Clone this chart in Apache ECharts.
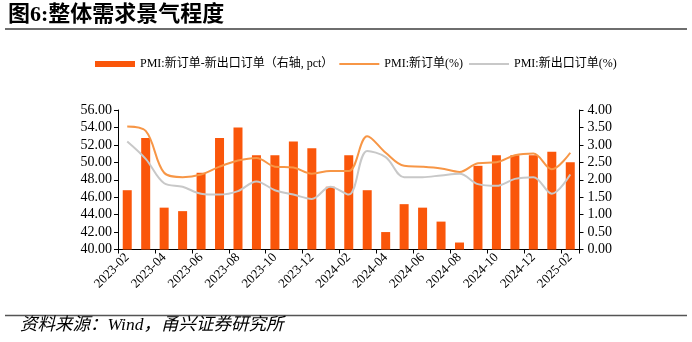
<!DOCTYPE html>
<html>
<head>
<meta charset="utf-8">
<script src="https://cdn.jsdelivr.net/npm/echarts@6/dist/echarts.min.js"></script>
<style>
html,body{margin:0;padding:0;background:#fff;}
#chart{width:692px;height:342px;}
</style>
</head>
<body>
<div id="chart"></div>
<script>
var categories = ['2023-02','2023-03','2023-04','2023-05','2023-06','2023-07','2023-08','2023-09','2023-10','2023-11','2023-12',
  '2024-01','2024-02','2024-03','2024-04','2024-05','2024-06','2024-07','2024-08','2024-09','2024-10','2024-11','2024-12',
  '2025-01','2025-02'];
var diffValues = [1.7,3.2,1.2,1.1,2.2,3.2,3.5,2.7,2.7,3.1,2.9,1.8,2.7,1.7,0.5,1.3,1.2,0.8,0.2,2.4,2.7,2.7,2.7,2.8,2.5];
var newOrders = [54.1,53.6,48.8,48.3,48.6,49.5,50.2,50.5,49.5,49.4,48.7,49.0,49.0,53.0,51.1,49.6,49.5,49.3,48.9,49.9,50.0,50.8,51.0,49.2,51.1];
var exportOrders = [52.4,50.4,47.6,47.2,46.4,46.3,46.7,47.8,46.8,46.3,45.8,47.2,46.3,51.3,50.6,48.3,48.3,48.5,48.7,47.5,47.3,48.1,48.3,46.4,48.6];
var leftTicks = {min:40, max:56, interval:2};
var rightTicks = {min:0, max:4, interval:0.5};
var seriesNames = ['PMI:新订单-新出口订单（右轴, pct）','PMI:新订单(%)','PMI:新出口订单(%)'];

var FONT = '"Liberation Serif","Times New Roman","Noto Sans CJK SC",serif';
var LINE_ICON = 'path://M0,0L40,0L40,2L0,2Z';
var chart = echarts.init(document.getElementById('chart'));
chart.setOption({
  animation:false,
  backgroundColor:'#fff',
  textStyle:{fontFamily:FONT},
  graphic:[
    {type:'text',left:8,top:4,style:{text:'图6:整体需求景气程度',font:'bold 22px '+FONT,fill:'#000'}},
    {type:'line',shape:{x1:5,y1:29,x2:687,y2:29},style:{stroke:'#6e6e6e',lineWidth:2}},
    {type:'line',shape:{x1:5,y1:315.5,x2:687,y2:315.5},style:{stroke:'#555',lineWidth:1.5}},
    {type:'text',left:20,top:317,style:{text:'资料来源：Wind，甬兴证券研究所',font:'italic 17.5px '+FONT,fill:'#000'}}
  ],
  legend:{
    left:90, top:53, itemWidth:40, itemHeight:6, itemGap:6, symbolKeepAspect:true,
    textStyle:{fontSize:12,color:'#000',fontFamily:FONT},
    data:[{name:seriesNames[0],icon:'rect'},{name:seriesNames[1],icon:LINE_ICON},{name:seriesNames[2],icon:LINE_ICON}]
  },
  grid:{left:118,right:112.5,top:110,bottom:92.5},
  xAxis:{
    type:'category', data:categories, boundaryGap:true,
    axisLine:{lineStyle:{color:'#000',width:1}},
    axisTick:{show:true,interval:1,length:4,lineStyle:{color:'#000'}},
    axisLabel:{interval:1,rotate:45,fontSize:13,color:'#000',margin:6,fontFamily:FONT}
  },
  yAxis:[
    {type:'value',min:leftTicks.min,max:leftTicks.max,interval:leftTicks.interval,position:'left',
     splitLine:{show:false},
     axisLine:{show:true,lineStyle:{color:'#000'}},
     axisTick:{show:true,length:4,lineStyle:{color:'#000'}},
     axisLabel:{formatter:function(v){return v.toFixed(2);},fontSize:14,color:'#000',margin:6,fontFamily:FONT}},
    {type:'value',min:rightTicks.min,max:rightTicks.max,interval:rightTicks.interval,position:'right',
     splitLine:{show:false},
     axisLine:{show:true,lineStyle:{color:'#000'}},
     axisTick:{show:true,length:4,lineStyle:{color:'#000'}},
     axisLabel:{formatter:function(v){return v.toFixed(2);},fontSize:14,color:'#000',margin:8,fontFamily:FONT}}
  ],
  series:[
    {name:seriesNames[0],type:'bar',yAxisIndex:1,data:diffValues,barWidth:9,itemStyle:{color:'#FA560A'}},
    {name:seriesNames[1],type:'line',yAxisIndex:0,data:newOrders,smooth:0.35,symbol:'none',lineStyle:{color:'#F79646',width:2},itemStyle:{color:'#F79646'}},
    {name:seriesNames[2],type:'line',yAxisIndex:0,data:exportOrders,smooth:0.35,symbol:'none',lineStyle:{color:'#C8C8C8',width:2},itemStyle:{color:'#C8C8C8'}}
  ]
});
</script>
</body>
</html>
